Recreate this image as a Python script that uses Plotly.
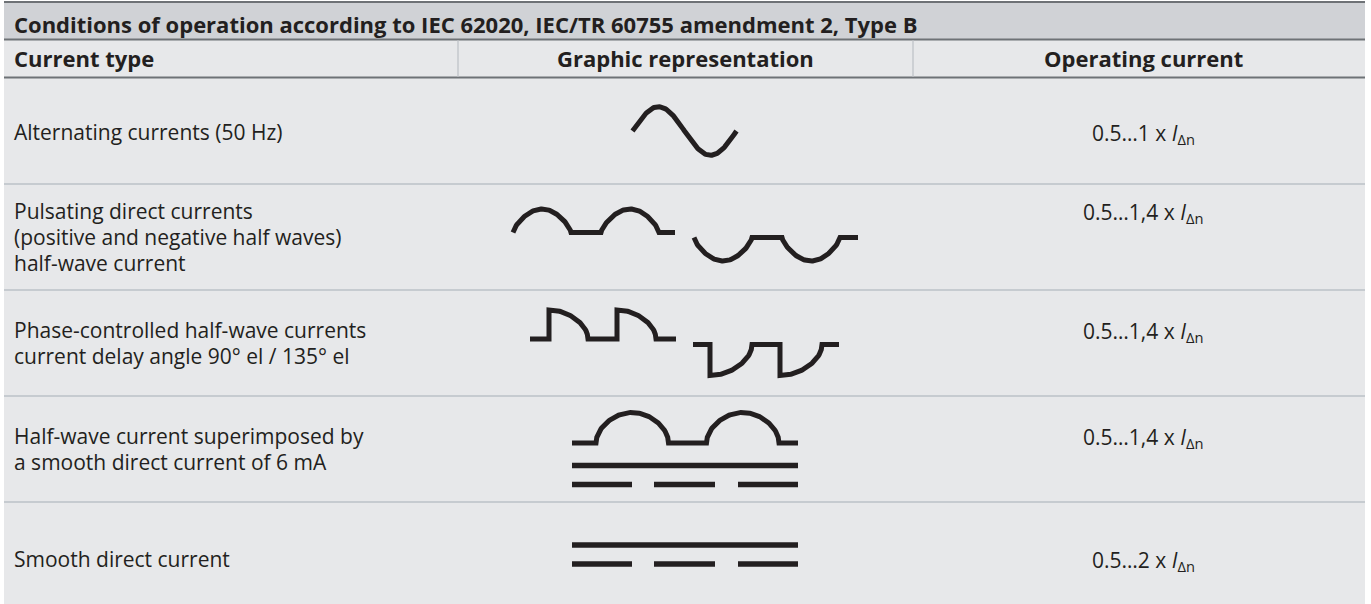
import numpy as np
import plotly.graph_objects as go

# ---------------- data ----------------
title_text = "Conditions of operation according to IEC 62020, IEC/TR 60755 amendment 2, Type B"
column_headers = ["Current type", "Graphic representation", "Operating current"]
current_types = [
    ["Alternating currents (50 Hz)"],
    ["Pulsating direct currents", "(positive and negative half waves)", "half-wave current"],
    ["Phase-controlled half-wave currents", "current delay angle 90° el / 135° el"],
    ["Half-wave current superimposed by", "a smooth direct current of 6 mA"],
    ["Smooth direct current"],
]
factor_low = ["0.5", "0.5", "0.5", "0.5", "0.5"]
factor_high = ["1", "1,4", "1,4", "1,4", "2"]
symbol_kinds = ["ac", "pulsating", "phase", "hw_dc", "dc"]

# ---------------- layout geometry ----------------
W, H = 1371, 604
T_LEFT, T_RIGHT = 4, 1365
TITLE_TOP, TITLE_BOT, HEAD_BOT = 2, 39.5, 77.5
COL_SEPS = [458, 913]
ROW_EDGES = [77.5, 184, 290, 396, 502, 604]
ROW_TEXT_CENTER = [132, 237, 343, 449, 559]
TEXT_X = 12
COL3_CENTER = 1143
LINE_STEP = 26
INK = "#231f20"
FONT = "Open Sans"

fig = go.Figure()

shapes = []
shapes.append(dict(type="rect", x0=T_LEFT, x1=T_RIGHT, y0=TITLE_TOP, y1=TITLE_BOT,
                   fillcolor="#d0d2d6", line_width=0, layer="below"))
shapes.append(dict(type="rect", x0=T_LEFT, x1=T_RIGHT, y0=TITLE_BOT, y1=H,
                   fillcolor="#e7e8ea", line_width=0, layer="below"))
for yy in [TITLE_TOP, TITLE_BOT, HEAD_BOT]:
    shapes.append(dict(type="line", x0=T_LEFT, x1=T_RIGHT, y0=yy, y1=yy,
                       line=dict(color="#6e7276", width=2.2), layer="below"))
for xx in COL_SEPS:
    shapes.append(dict(type="line", x0=xx, x1=xx, y0=TITLE_BOT + 1, y1=HEAD_BOT - 1,
                       line=dict(color="#c4c8cc", width=1.5), layer="below"))
for yy in ROW_EDGES[1:-1]:
    shapes.append(dict(type="line", x0=T_LEFT, x1=T_RIGHT, y0=yy, y1=yy,
                       line=dict(color="#c6cbd0", width=2), layer="below"))


# ---------------- symbol builders ----------------
def add_line(xs, ys, width=5):
    fig.add_trace(go.Scatter(x=xs, y=ys, mode="lines",
                             line=dict(color=INK, width=width, shape="linear"),
                             hoverinfo="skip", showlegend=False))


def sine_wave(x0, yc, amp, period):
    th = np.linspace(0, 2 * np.pi, 140)
    return list(x0 + th / (2 * np.pi) * period), list(yc - amp * np.sin(th))


def humps(x0, base, amp, width, gap, n, lead, trail, sign, p=1.0):
    xs, ys = [], []
    x = x0
    if lead > 0:
        xs += [x]; ys += [base]
        x += lead
    for i in range(n):
        th = np.linspace(0, np.pi, 90)
        xs += list(x + th / np.pi * width)
        ys += list(base - sign * amp * np.abs(np.sin(th)) ** p)
        x += width
        if i < n - 1:
            x += gap
            xs += [x]; ys += [base]
    if trail > 0:
        xs += [x + trail]; ys += [base]
    return xs, ys


def phase_wave(x0, base, amp, lead, width, period, n, end, sign, p=0.5):
    xs, ys = [x0], [base]
    xv = x0 + lead
    for i in range(n):
        xs += [xv]; ys += [base]
        th = np.linspace(np.pi / 2, np.pi, 60)
        xs += list(xv + (th - np.pi / 2) / (np.pi / 2) * width)
        ys += list(base - sign * amp * np.abs(np.sin(th)) ** p)
        xv += period
    xs += [end]; ys += [base]
    return xs, ys


def dc_symbol(x0, x1, y_solid, y_dash, dashes):
    xs = [x0, x1, None]
    ys = [y_solid, y_solid, None]
    for d0, d1 in dashes:
        xs += [d0, d1, None]
        ys += [y_dash, y_dash, None]
    return xs, ys


DASHES = [(572, 632), (654, 715), (738, 798)]

for kind, top in zip(symbol_kinds, ROW_EDGES[:-1]):
    if kind == "ac":
        add_line(*sine_wave(632.5, top + 53.5, 24.3, 104))
    elif kind == "pulsating":
        add_line(*humps(513, top + 48.5, 23.5, 58, 30, 2, 0, 16, 1, p=0.7))
        add_line(*humps(694, top + 53.5, 23.5, 58, 30, 2, 0, 18, -1, p=0.7))
    elif kind == "phase":
        add_line(*phase_wave(530, top + 49, 29, 19, 39, 68, 2, 676, 1))
        add_line(*phase_wave(693, top + 54.5, 31, 17, 42, 70, 2, 839, -1))
    elif kind == "hw_dc":
        add_line(*humps(572, top + 47, 30.5, 72.5, 38, 2, 24, 19, 1, p=0.5))
        add_line(*dc_symbol(572, 798, top + 69.5, top + 88.5, DASHES), width=5.6)
    elif kind == "dc":
        add_line(*dc_symbol(572, 798, top + 43, top + 62, DASHES), width=5.6)

# ---------------- texts ----------------
ann = []
bold_font = dict(family=FONT, size=22, color=INK)
reg_font = dict(family=FONT, size=21, color=INK)
ann.append(dict(x=TEXT_X, y=23.5, text=f"<b>{title_text}</b>", xanchor="left", yanchor="middle",
                showarrow=False, font=bold_font))
head_y = 58
ann.append(dict(x=TEXT_X, y=head_y, text=f"<b>{column_headers[0]}</b>", xanchor="left",
                yanchor="middle", showarrow=False, font=bold_font))
ann.append(dict(x=(COL_SEPS[0] + COL_SEPS[1]) / 2, y=head_y, text=f"<b>{column_headers[1]}</b>",
                xanchor="center", yanchor="middle", showarrow=False, font=bold_font))
ann.append(dict(x=COL3_CENTER, y=head_y, text=f"<b>{column_headers[2]}</b>", xanchor="center",
                yanchor="middle", showarrow=False, font=bold_font))

row_first_line = []
for i, lines in enumerate(current_types):
    yc = ROW_TEXT_CENTER[i]
    y0 = yc - (len(lines) - 1) * LINE_STEP / 2
    row_first_line.append(y0)
    for k, line in enumerate(lines):
        ann.append(dict(x=TEXT_X, y=y0 + k * LINE_STEP, text=line, xanchor="left",
                        yanchor="middle", showarrow=False, font=reg_font))

for lo, hi, y0 in zip(factor_low, factor_high, row_first_line):
    ann.append(dict(x=COL3_CENTER, y=y0 + 1.5, text=f"{lo}…{hi} x <i>I</i><sub>Δn</sub>",
                    xanchor="center", yanchor="middle", showarrow=False, font=reg_font))

fig.update_layout(
    width=W, height=H,
    margin=dict(l=0, r=0, t=0, b=0),
    paper_bgcolor="#ffffff", plot_bgcolor="#ffffff",
    xaxis=dict(range=[0, W], visible=False, fixedrange=True),
    yaxis=dict(range=[H, 0], visible=False, fixedrange=True),
    shapes=shapes, annotations=ann,
)

fig.write_html("out.html", config={"displayModeBar": False},
               post_script="document.body.style.margin='0';document.body.style.padding='0';"
                           "document.body.style.overflow='hidden';")
